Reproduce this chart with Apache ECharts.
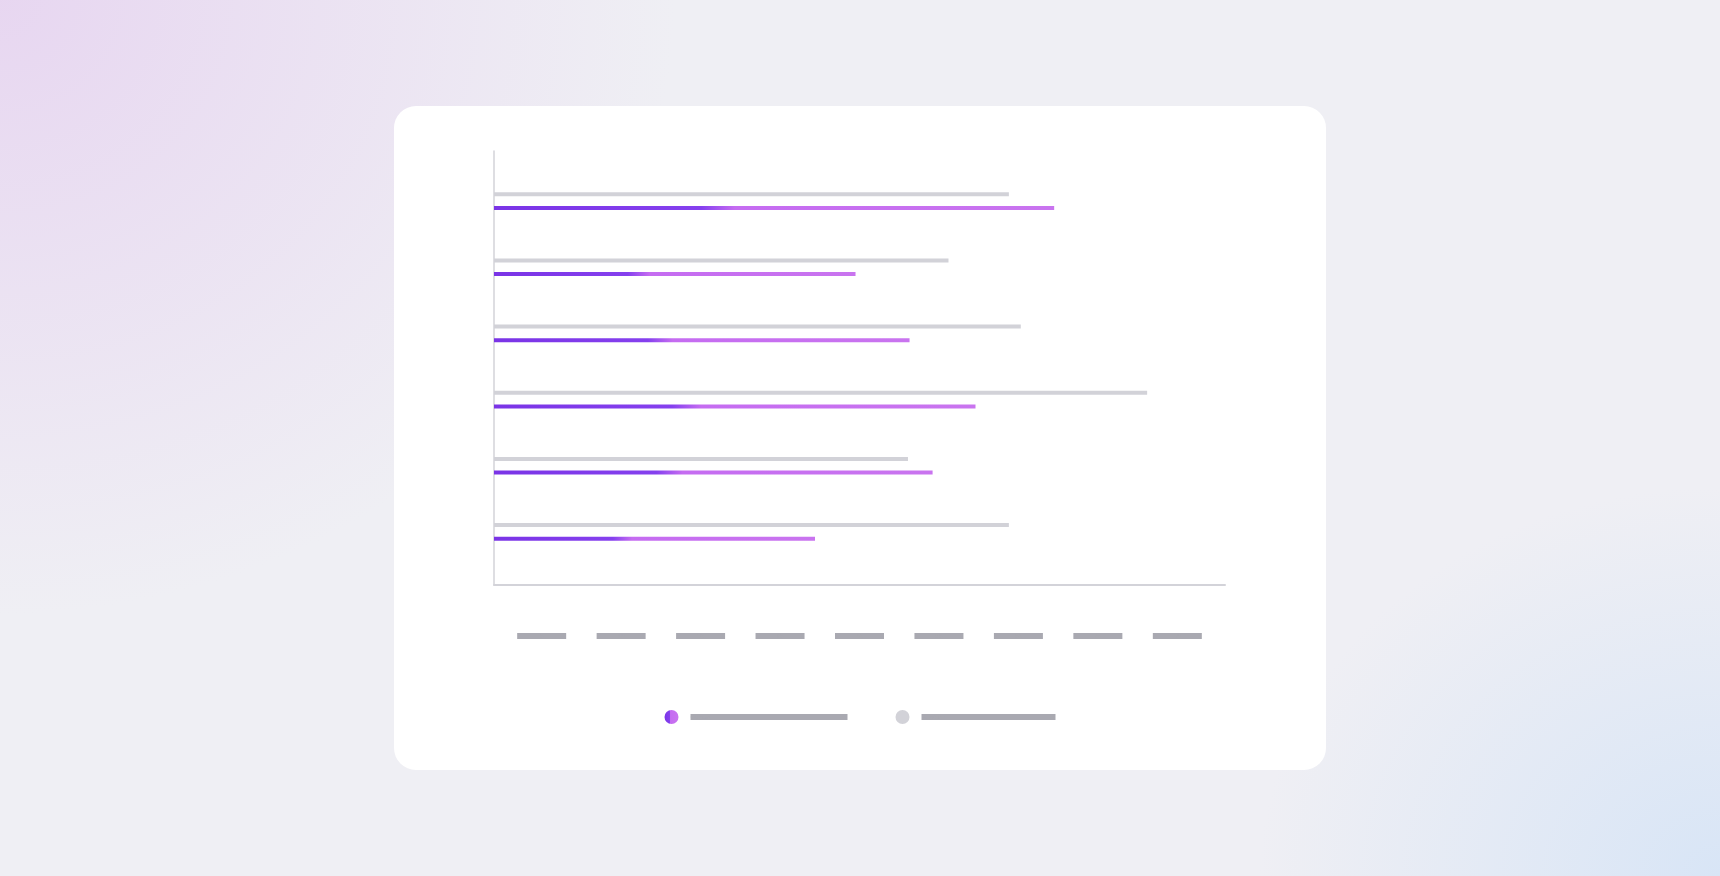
<!DOCTYPE html>
<html>
<head>
<meta charset="utf-8">
<title>Bar comparison</title>
<script src="https://cdn.jsdelivr.net/npm/echarts@6/dist/echarts.min.js"></script>
<style>
  html, body { margin: 0; width: 1720px; height: 876px; overflow: hidden; }
  body {
    background:
      radial-gradient(ellipse 900px 820px at 0 0, rgba(230, 210, 240, 0.85), rgba(230, 210, 240, 0) 75%),
      radial-gradient(ellipse 640px 540px at 100% 100%, rgba(216, 229, 246, 1), rgba(216, 229, 246, 0) 72%),
      #efeff4;
  }
  #card {
    position: absolute; left: 394px; top: 106px;
    width: 932px; height: 664px;
    background: #fff; border-radius: 22px;
  }
  #main { width: 932px; height: 664px; }
</style>
</head>
<body>
<div id="card"><div id="main"></div></div>
<script>
// data
var categories = ['Item 1', 'Item 2', 'Item 3', 'Item 4', 'Item 5', 'Item 6'];
var currentValues = [70.5, 45.5, 52.3, 60.6, 55.2, 40.4];
var previousValues = [64.8, 57.2, 66.3, 82.2, 52.1, 64.8];
var tickValues = [6, 16, 26, 36, 46, 56, 66, 76, 86];
var seriesNames = ['Current', 'Previous'];

var myChart = echarts.init(document.getElementById('main'));

var purple = new echarts.graphic.LinearGradient(0, 0, 1, 0, [
    {offset: 0, color: '#7a34e6'},
    {offset: 0.37, color: '#8540ee'},
    {offset: 0.43, color: '#c56cf1'},
    {offset: 1, color: '#c974ef'}
]);

var option = {
    animation: false,
    grid: [
        // frame: axis lines + tick labels
        {left: 100, right: 101, top: 45, bottom: 185},
        // bars
        {left: 100, right: 101, top: 62, bottom: 205}
    ],
    legend: {
        data: seriesNames,
        left: 'center',
        top: 599,
        itemWidth: 14,
        itemHeight: 14,
        itemGap: 48,
        icon: 'circle',
        formatter: function (name) {
            return '{' + (name === seriesNames[0] ? 'a' : 'b') + '|' + name + '}';
        },
        textStyle: {
            padding: [0, 0, 0, 7],
            rich: {
                a: {width: 157, height: 6, lineHeight: 6, fontSize: 6, color: '#a9a9b1', backgroundColor: '#a9a9b1'},
                b: {width: 134, height: 6, lineHeight: 6, fontSize: 6, color: '#a9a9b1', backgroundColor: '#a9a9b1'}
            }
        }
    },
    xAxis: [
        {
            type: 'value', gridIndex: 0, min: 0, max: 92,
            splitLine: {show: false},
            axisTick: {show: false},
            axisLine: {show: true, lineStyle: {color: '#d3d3d9', width: 2}},
            axisLabel: {
                customValues: tickValues,
                margin: 48,
                formatter: function (v) { return '{t|' + v + '}'; },
                rich: {
                    t: {width: 49, height: 6, lineHeight: 6, fontSize: 6, align: 'center', color: '#a9a9b1', backgroundColor: '#a9a9b1'}
                }
            }
        },
        {
            type: 'value', gridIndex: 1, min: 0, max: 92, show: false
        }
    ],
    yAxis: [
        {
            type: 'value', gridIndex: 0,
            splitLine: {show: false},
            axisTick: {show: false},
            axisLabel: {show: false},
            axisLine: {show: true, lineStyle: {color: '#d3d3d9', width: 1.5}}
        },
        {
            type: 'category', gridIndex: 1, inverse: true,
            data: categories, show: false
        }
    ],
    series: [
        {
            name: seriesNames[1],
            type: 'bar',
            xAxisIndex: 1, yAxisIndex: 1,
            barWidth: 4,
            barGap: '240%',
            itemStyle: {color: '#d2d2d8'},
            data: previousValues
        },
        {
            name: seriesNames[0],
            type: 'bar',
            xAxisIndex: 1, yAxisIndex: 1,
            barWidth: 4,
            barGap: '240%',
            itemStyle: {color: purple},
            data: currentValues
        }
    ]
};
myChart.setOption(option);
</script>
</body>
</html>
